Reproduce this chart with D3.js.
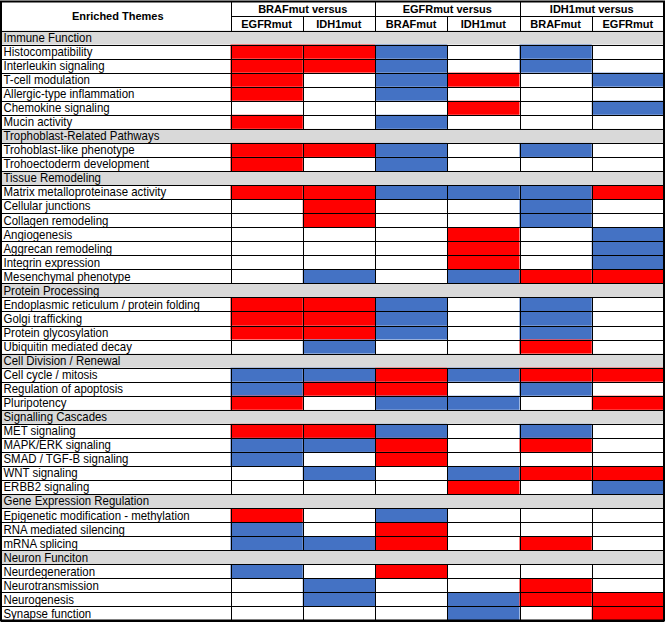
<!DOCTYPE html>
<html>
<head>
<meta charset="utf-8">
<script src="https://cdn.jsdelivr.net/npm/d3@7"></script>
<style>
  html, body { margin: 0; padding: 0; background: #fff; }
  svg { display: block; }
</style>
</head>
<body>
<div id="chart"></div>
<script>
// ---------------- DATA ----------------
const headerTitle = "Enriched Themes";
const columnGroups = ["BRAFmut versus", "EGFRmut versus", "IDH1mut versus"];
const columnLabels = ["EGFRmut", "IDH1mut", "BRAFmut", "IDH1mut", "BRAFmut", "EGFRmut"];

const sections = [
  "Immune Function",
  "Trophoblast-Related Pathways",
  "Tissue Remodeling",
  "Protein Processing",
  "Cell Division / Renewal",
  "Signalling Cascades",
  "Gene Expression Regulation",
  "Neuron Funciton"
];

// theme names per section (same order as sections)
const immuneThemes = ["Histocompatibility", "Interleukin signaling", "T-cell modulation", "Allergic-type inflammation", "Chemokine signaling", "Mucin activity"];
const trophoblastThemes = ["Trohoblast-like phenotype", "Trohoectoderm development"];
const tissueThemes = ["Matrix metalloproteinase activity", "Cellular junctions", "Collagen remodeling", "Angiogenesis", "Aggrecan remodeling", "Integrin expression", "Mesenchymal phenotype"];
const proteinThemes = ["Endoplasmic reticulum / protein folding", "Golgi trafficking", "Protein glycosylation", "Ubiquitin mediated decay"];
const divisionThemes = ["Cell cycle / mitosis", "Regulation of apoptosis", "Pluripotency"];
const signallingThemes = ["MET signaling", "MAPK/ERK signaling", "SMAD / TGF-B signaling", "WNT signaling", "ERBB2 signaling"];
const geneThemes = ["Epigenetic modification - methylation", "RNA mediated silencing", "mRNA splicing"];
const neuronThemes = ["Neurdegeneration", "Neurotransmission", "Neurogenesis", "Synapse function"];

// 1 = enriched (up), -1 = depleted (down), 0 = not significant; one value per comparison column
const immuneValues = [
  [1, 1, -1, 0, -1, 0],
  [1, 1, -1, 0, -1, 0],
  [1, 0, -1, 1, 0, -1],
  [1, 0, -1, 0, 0, 0],
  [0, 0, 0, 1, 0, -1],
  [1, 0, -1, 0, 0, 0]
];
const trophoblastValues = [
  [1, 1, -1, 0, -1, 0],
  [1, 0, -1, 0, 0, 0]
];
const tissueValues = [
  [1, 1, -1, -1, -1, 1],
  [0, 1, 0, 0, -1, 0],
  [0, 1, 0, 0, -1, 0],
  [0, 0, 0, 1, 0, -1],
  [0, 0, 0, 1, 0, -1],
  [0, 0, 0, 1, 0, -1],
  [0, -1, 0, -1, 1, 1]
];
const proteinValues = [
  [1, 1, -1, 0, -1, 0],
  [1, 1, -1, 0, -1, 0],
  [1, 1, -1, 0, -1, 0],
  [0, -1, 0, 0, 1, 0]
];
const divisionValues = [
  [-1, -1, 1, -1, 1, 1],
  [-1, 1, 1, 0, -1, 0],
  [1, 0, -1, -1, 0, 1]
];
const signallingValues = [
  [1, 1, -1, 0, -1, 0],
  [-1, -1, 1, 0, 1, 0],
  [-1, 0, 1, 0, 0, 0],
  [0, -1, 0, -1, 1, 1],
  [0, 0, 0, 1, 0, -1]
];
const geneValues = [
  [1, 0, -1, 0, 0, 0],
  [-1, 0, 1, 0, 0, 0],
  [-1, -1, 1, 0, 1, 0]
];
const neuronValues = [
  [-1, 0, 1, 0, 0, 0],
  [0, -1, 0, 0, 1, 0],
  [0, -1, 0, -1, 1, 1],
  [0, 0, 0, -1, 0, 1]
];

const sectionThemes = [immuneThemes, trophoblastThemes, tissueThemes, proteinThemes, divisionThemes, signallingThemes, geneThemes, neuronThemes];
const sectionValues = [immuneValues, trophoblastValues, tissueValues, proteinValues, divisionValues, signallingValues, geneValues, neuronValues];

(function () {
// ---------------- BUILD ROWS ----------------
const rows = [];
sections.forEach((s, si) => {
  rows.push({ id: "S" + si, label: s, section: true });
  sectionThemes[si].forEach((t, ti) => {
    rows.push({ id: "T" + si + "_" + ti, label: t, section: false, values: sectionValues[si][ti] });
  });
});

// ---------------- LAYOUT ----------------
const W = 668, H = 626;
const xLeft = 1, labelRight = 230.5, xRight = 664;
const yTop = 1.5, headSplit = 16, headBottom = 30.5, yBottom = 620.5;

const colKeys = d3.range(columnLabels.length);
const x = d3.scaleBand().domain(colKeys).range([labelRight, xRight]);
const y = d3.scaleBand().domain(rows.map(r => r.id)).range([headBottom, yBottom]);
const color = d3.scaleOrdinal().domain([1, -1, 0]).range(["#FF0000", "#4472C4", "#FFFFFF"]);

const svg = d3.select("#chart").append("svg")
  .attr("width", W).attr("height", H)
  .attr("viewBox", `0 0 ${W} ${H}`);

svg.append("rect").attr("width", W).attr("height", H).attr("fill", "#fff");

const snap = v => Math.round(v) + 0.5;

// section (group) rows
svg.append("g").selectAll("rect")
  .data(rows.filter(r => r.section))
  .join("rect")
  .attr("x", xLeft).attr("width", xRight - xLeft)
  .attr("y", d => y(d.id)).attr("height", y.bandwidth())
  .attr("fill", "#D9D9D9");

// colored cells
const cells = [];
rows.filter(r => !r.section).forEach(r => r.values.forEach((v, ci) => cells.push({ row: r.id, col: ci, v })));
svg.append("g").selectAll("rect")
  .data(cells.filter(c => c.v !== 0))
  .join("rect")
  .attr("x", d => x(d.col)).attr("width", x.bandwidth())
  .attr("y", d => y(d.row)).attr("height", y.bandwidth())
  .attr("fill", d => color(d.v));

// grid lines
const grid = svg.append("g").attr("stroke", "#000").attr("stroke-width", 1).attr("fill", "none")
  .attr("shape-rendering", "crispEdges");

const hLines = [headBottom].concat(rows.map(r => y(r.id) + y.bandwidth()));
grid.selectAll("line.h").data(hLines).join("line").attr("class", "h")
  .attr("x1", xLeft).attr("x2", xRight)
  .attr("y1", d => snap(d)).attr("y2", d => snap(d));

grid.append("line").attr("x1", labelRight).attr("x2", xRight)
  .attr("y1", snap(headSplit)).attr("y2", snap(headSplit));

grid.selectAll("line.vh").data([0, 2, 4].map(i => x(i))).join("line").attr("class", "vh")
  .attr("x1", d => snap(d)).attr("x2", d => snap(d))
  .attr("y1", yTop).attr("y2", headBottom);
grid.selectAll("line.vh2").data([1, 3, 5].map(i => x(i))).join("line").attr("class", "vh2")
  .attr("x1", d => snap(d)).attr("x2", d => snap(d))
  .attr("y1", headSplit).attr("y2", headBottom);

const themeRows = rows.filter(r => !r.section);
const vSegs = [];
themeRows.forEach(r => colKeys.forEach(ci => vSegs.push({ row: r.id, xv: x(ci) })));
grid.selectAll("line.vr").data(vSegs).join("line").attr("class", "vr")
  .attr("x1", d => snap(d.xv)).attr("x2", d => snap(d.xv))
  .attr("y1", d => y(d.row)).attr("y2", d => y(d.row) + y.bandwidth());

svg.append("rect")
  .attr("x", xLeft).attr("y", yTop)
  .attr("width", xRight - xLeft).attr("height", yBottom - yTop)
  .attr("fill", "none").attr("stroke", "#000").attr("stroke-width", 2);

// ---------------- TEXT ----------------
const headFont = "'Liberation Sans', Arial, sans-serif";
const labelFont = "'Liberation Sans', Arial, sans-serif";
const narrow = 0.88; // condensed look of the reference labels

svg.append("text")
  .attr("x", (xLeft + labelRight) / 2 + 2).attr("y", (yTop + headBottom) / 2)
  .attr("dy", "0.36em").attr("text-anchor", "middle")
  .attr("font-family", headFont).attr("font-weight", "bold").attr("font-size", 11)
  .text(headerTitle);

svg.append("g").selectAll("text")
  .data(columnGroups)
  .join("text")
  .attr("x", (d, i) => x(i * 2) + x.bandwidth())
  .attr("y", (yTop + headSplit) / 2 + 0.5)
  .attr("dy", "0.36em").attr("text-anchor", "middle")
  .attr("font-family", headFont).attr("font-weight", "bold").attr("font-size", 11)
  .text(d => d);

svg.append("g").selectAll("text")
  .data(columnLabels)
  .join("text")
  .attr("x", (d, i) => x(i) + x.bandwidth() / 2)
  .attr("y", (headSplit + headBottom) / 2 + 0.5)
  .attr("dy", "0.36em").attr("text-anchor", "middle")
  .attr("font-family", headFont).attr("font-weight", "bold").attr("font-size", 11)
  .text(d => d);

svg.append("g").selectAll("text")
  .data(rows)
  .join("text")
  .attr("transform", d => `translate(3.5,${y(d.id) + y.bandwidth() / 2 - 0.3}) scale(${narrow},1)`)
  .attr("dy", "0.36em")
  .attr("font-family", labelFont).attr("font-size", 13).attr("fill", "#000")
  .text(d => d.label);
})();
</script>
</body>
</html>
